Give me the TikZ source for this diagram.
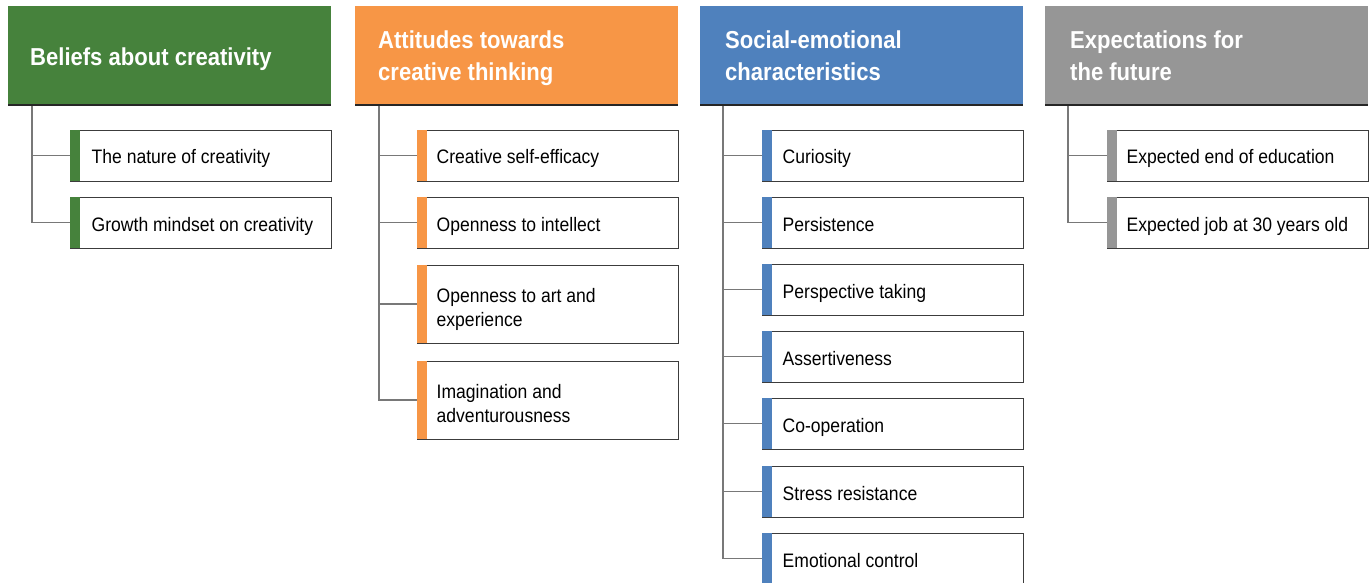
\documentclass[tikz,border=0pt]{standalone}
\usepackage{fontspec}
\setmainfont{Liberation Sans}
\newfontfamily\hfont[FakeStretch=0.9]{Liberation Sans}
\definecolor{cgreen}{RGB}{70,130,60}
\definecolor{corange}{RGB}{247,150,70}
\definecolor{cblue}{RGB}{79,129,189}
\definecolor{cgray}{RGB}{150,150,150}
\definecolor{lgray}{RGB}{120,120,120}
\definecolor{bgray}{RGB}{60,60,60}
\tikzset{
  head/.style={anchor=north west, minimum width=323pt, minimum height=99pt, inner sep=0pt, outer sep=0pt, fill=#1},
  headtext/.style={anchor=base west, inner sep=0pt, text=white, font=\hfont\bfseries\fontsize{24.5}{32}\selectfont},
  kid/.style={anchor=north west, minimum width=261pt, inner sep=0pt, outer sep=0pt,
    draw=bgray, line width=0.9pt, fill=white},
  kidtext/.style={anchor=base west, inner sep=0pt, font=\hfont\fontsize{19.5}{24.5}\selectfont},
  conn/.style={draw=lgray, line width=1.3pt},
}
\newcommand{\tb}[1]{\parbox[t]{300pt}{\raggedright #1}}
\begin{document}
\begin{tikzpicture}[x=1pt,y=-1pt]
\useasboundingbox (0,0) rectangle (1370,583);
\clip (0,0) rectangle (1370,583);
% headers
\node[head=cgreen] (h1) at (8,6) {};
\node[head=corange] (h2) at (355,6) {};
\node[head=cblue] (h3) at (700,6) {};
\node[head=cgray] (h4) at (1045,6) {};
\foreach \h in {h1,h2,h3,h4}{
  \draw[black!85, line width=1.6pt] (\h.south west) -- (\h.south east);
}
\node[headtext] (h1t) at (30,66) {\tb{Beliefs about creativity}};
\node[headtext] (h2t) at (378,49) {\tb{Attitudes towards\\creative thinking}};
\node[headtext] (h3t) at (725,49) {\tb{Social-emotional\\characteristics}};
\node[headtext] (h4t) at (1070,49) {\tb{Expectations for\\the future}};
% children
\newcommand{\kidnode}[7]{% name, x, y, height, colour, baseline offset, text offset
  \node[kid, minimum height=#4pt] (#1) at (#2,#3) {};
  \fill[#5] ([xshift=0.45pt,yshift=-0.45pt]#1.north west) rectangle ([xshift=10pt,yshift=0.45pt]#1.south west);
  \node[kidtext] (#1t) at ([xshift=#7pt,yshift=-#6pt]#1.north west) {\kidtxt};
}
\newcommand{\kidx}{19.5}
\newcommand{\kid}[7]{\def\kidtxt{\parbox[t]{235pt}{\raggedright #7}}\kidnode{#1}{#2}{#3}{#4}{#5}{#6}{\kidx}}
\renewcommand{\kidx}{21.5}
\kid{c11}{70}{130}{51}{cgreen}{34}{The nature of creativity}
\kid{c12}{70}{197}{51}{cgreen}{34}{Growth mindset on creativity}
\renewcommand{\kidx}{19.5}
\kid{c21}{417}{130}{51}{corange}{34}{Creative self-efficacy}
\kid{c22}{417}{197}{51}{corange}{34}{Openness to intellect}
\kid{c23}{417}{265}{78}{corange}{37}{Openness to art and\\experience}
\kid{c24}{417}{361}{78}{corange}{37}{Imagination and\\adventurousness}
\renewcommand{\kidx}{20.5}
\kid{c31}{762}{130}{51}{cblue}{34}{Curiosity}
\kid{c32}{762}{197}{51}{cblue}{34}{Persistence}
\kid{c33}{762}{264}{51}{cblue}{34}{Perspective taking}
\kid{c34}{762}{331}{51}{cblue}{34}{Assertiveness}
\kid{c35}{762}{398}{51}{cblue}{34}{Co-operation}
\kid{c36}{762}{466}{51}{cblue}{34}{Stress resistance}
\kid{c37}{762}{533}{51}{cblue}{34}{Emotional control}
\renewcommand{\kidx}{19.5}
\kid{c41}{1107}{130}{51}{cgray}{34}{Expected end of education}
\kid{c42}{1107}{197}{51}{cgray}{34}{Expected job at 30 years old}

% connectors
\coordinate (t1) at (32,106);
\coordinate (t2) at (379,106);
\coordinate (t3) at (723,106);
\coordinate (t4) at (1068,106);
\draw[conn] (t1) |- (c12.west);
\draw[conn] (t1 |- c11.west) -- (c11.west);
\draw[conn] (t2) |- (c24.west);
\foreach \c in {c21,c22,c23}{\draw[conn] (t2 |- \c.west) -- (\c.west);}
\draw[conn] (t3) |- (c37.west);
\foreach \c in {c31,c32,c33,c34,c35,c36}{\draw[conn] (t3 |- \c.west) -- (\c.west);}
\draw[conn] (t4) |- (c42.west);
\draw[conn] (t4 |- c41.west) -- (c41.west);
\end{tikzpicture}
\end{document}
